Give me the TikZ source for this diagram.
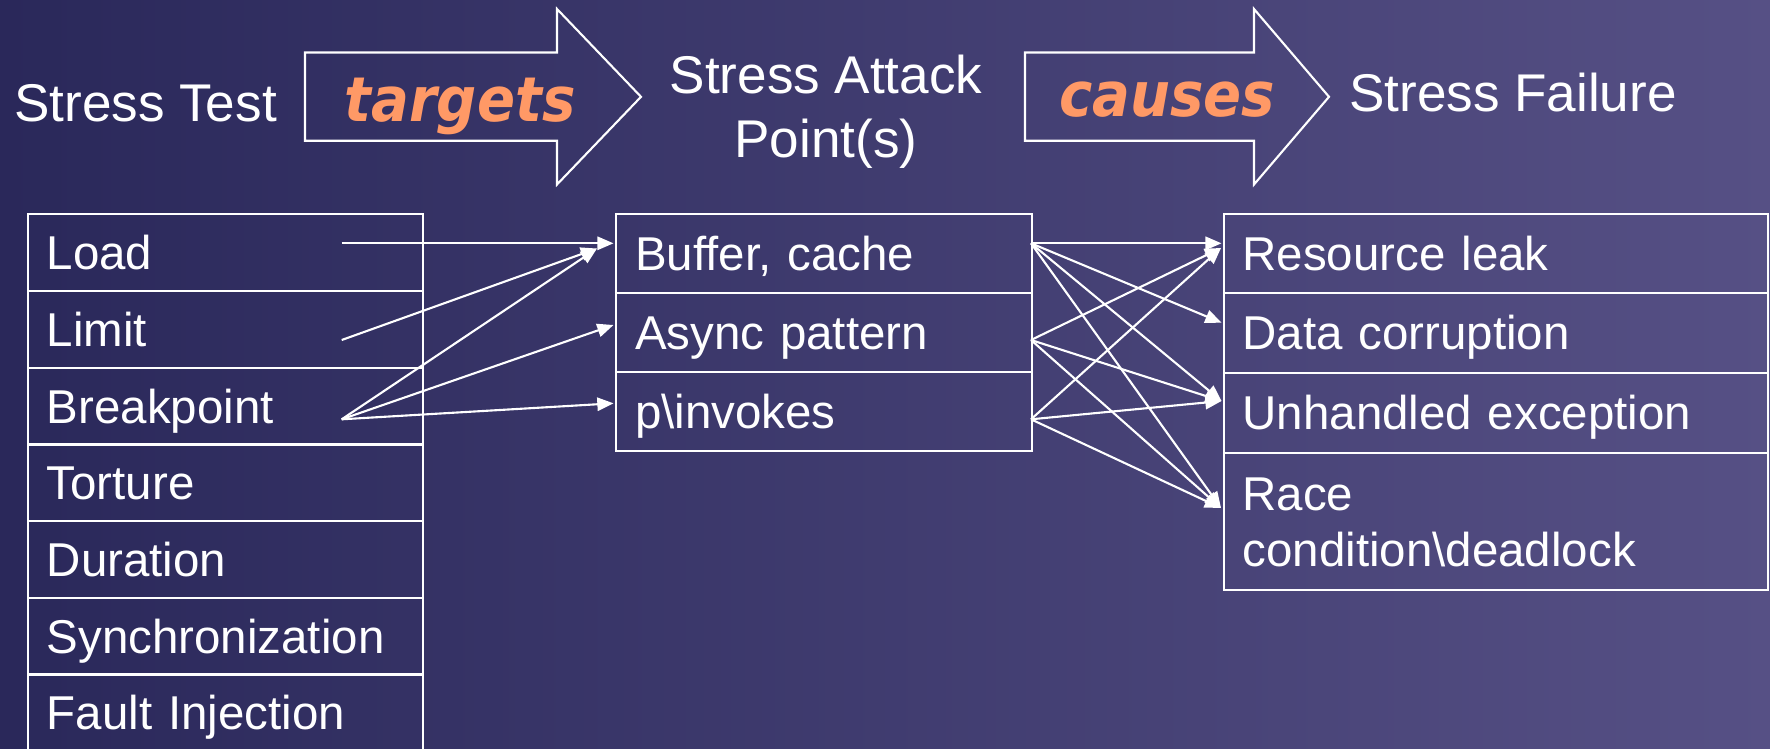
\documentclass[tikz,border=0pt]{standalone}
\usepackage{fontspec}
\usepackage{graphicx}
\setmainfont{Liberation Sans}
\newfontfamily\orfont{DejaVu Sans}
\usetikzlibrary{arrows.meta}
\newdimen\pxu \pxu=0.01cm
\definecolor{bgl}{RGB}{42,40,90}
\definecolor{bgr}{RGB}{86,80,133}
\definecolor{orng}{RGB}{255,153,102}
\begin{document}
\begin{tikzpicture}[x=0.01cm,y=-0.01cm,
  hdr/.style={text=white, font=\fontsize{15.1}{18.2}\selectfont, inner sep=0pt, anchor=base},
  lbl/.style={text=orng, font=\orfont\bfseries\itshape\fontsize{17.6}{20}\selectfont, inner sep=0pt, anchor=base},
  blk/.style={draw=white, line width=0.6pt, line join=miter},
  cell/.style={draw=white, line width=0.6pt, anchor=north west, text=white,
    font=\fontsize{13.5}{16.1}\selectfont, inner xsep=19\pxu, inner ysep=0pt,
    align=left, text height=9.67pt, text depth=0pt},
  lcell/.style={cell, text width=357\pxu, minimum height=76.7\pxu},
  mcell/.style={cell, text width=378\pxu, minimum height=79\pxu},
  rcell/.style={cell, text width=506\pxu},
  conn/.style={draw=white, line width=0.6pt, -{Triangle[length=4.6pt,width=3.8pt]}}
]
\useasboundingbox (0,0) rectangle (1770,748);
\shade[left color=bgl, right color=bgr] (0,0) rectangle (1770,748);
\clip (0,0) rectangle (1770,748);

% headers
\node[hdr] (tTest) at (145.5,121.5) {Stress Test};
\node[hdr, align=center] (tAttack) at (826,157) {Stress Attack\\Point(s)};
\node[hdr] (tFailure) at (1513,111.7) {Stress Failure};

% block arrows
\draw[blk] (305,52.5) -- (557,52.5) -- (557,9) -- (641,96.8) -- (557,184.5) -- (557,140.7) -- (305,140.7) -- cycle;
\draw[blk] (1025,52.5) -- (1254,52.5) -- (1254,9) -- (1329,96.8) -- (1254,184.5) -- (1254,140.7) -- (1025,140.7) -- cycle;
\node[lbl] (lTargets) at (460,121.7) {\scalebox{0.907}[1]{targets}};
\node[lbl] (lCauses) at (1167,116.5) {\scalebox{0.907}[1]{causes}};

% left table
\node[lcell] (cLoad) at (26.7,213.3) {Load};
\node[lcell] (cLimit) at (26.7,290) {Limit};
\node[lcell] (cBreak) at (26.7,366.7) {Breakpoint};
\node[lcell] (cTort) at (26.7,443.3) {Torture};
\node[lcell] (cDur) at (26.7,520) {Duration};
\node[lcell] (cSync) at (26.7,596.7) {Synchronization};
\node[lcell] (cFault) at (26.7,673.3) {Fault Injection};

% middle table
\node[mcell] (cBuf) at (615,213.3) {Buffer, cache};
\node[mcell] (cAsync) at (615,292.3) {Async pattern};
\node[mcell] (cInv) at (615,371.3) {p\textbackslash invokes};

% right table
\node[rcell, minimum height=79.5\pxu] (cRes) at (1222.5,212.5) {Resource leak};
\node[rcell, minimum height=79.5\pxu] (cData) at (1222.5,292) {Data corruption};
\node[rcell, minimum height=80\pxu] (cUnh) at (1222.5,371.5) {Unhandled exception};
\node[rcell, minimum height=137.5\pxu, text depth=16.1pt] (cRace) at (1222.5,451.5) {Race\\condition\textbackslash deadlock};

% connector end points
\coordinate (sLoad) at (341.7,243.3);
\coordinate (sLimit) at (341.7,340);
\coordinate (sBreak) at (341.7,419.3);
\coordinate (tBuf) at (613.5,243.3);
\coordinate (tBufB) at (597,248.5);
\coordinate (tAsync) at (613.5,325);
\coordinate (tInv) at (613.5,403.3);
\coordinate (sBuf) at (1031,243.3);
\coordinate (sAsync) at (1031,340);
\coordinate (sInv) at (1031,419.3);
\coordinate (tRes) at (1221.5,243.3);
\coordinate (tResB) at (1221,248);
\coordinate (tData) at (1221.5,322.7);
\coordinate (tUnh) at (1221.5,401);
\coordinate (tRace) at (1221,508);

% connectors left -> middle
\draw[conn] (sLoad) -- (tBuf);
\draw[conn] (sLimit) -- (tBufB);
\draw[conn] (sBreak) -- (tBufB);
\draw[conn] (sBreak) -- (tAsync);
\draw[conn] (sBreak) -- (tInv);

% connectors middle -> right
\draw[conn] (sBuf) -- (tRes);
\draw[conn] (sBuf) -- (tData);
\draw[conn] (sBuf) -- (tUnh);
\draw[conn] (sBuf) -- (tRace);
\draw[conn] (sAsync) -- (tResB);
\draw[conn] (sAsync) -- (tUnh);
\draw[conn] (sAsync) -- (tRace);
\draw[conn] (sInv) -- (tResB);
\draw[conn] (sInv) -- (tUnh);
\draw[conn] (sInv) -- (tRace);
\end{tikzpicture}
\end{document}
